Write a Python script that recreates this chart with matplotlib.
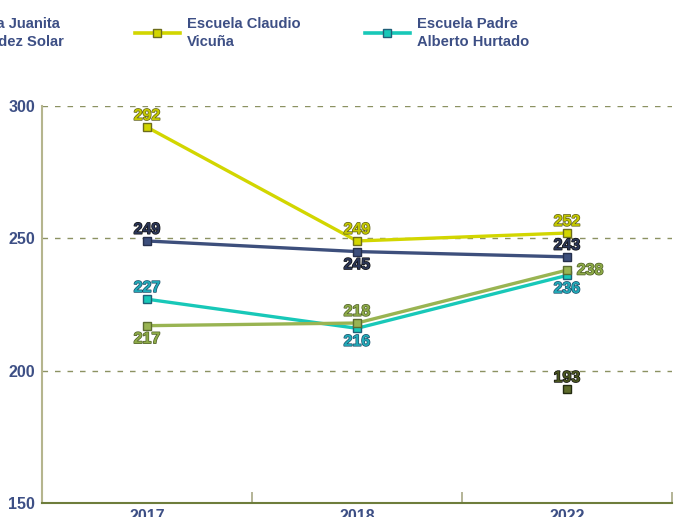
import matplotlib.pyplot as plt
import matplotlib.patheffects as pe
from matplotlib.lines import Line2D

# datos
anios = ["2017", "2018", "2022"]
claudio_vicuna = [292, 249, 252]
padre_hurtado = [227, 216, 236]
juanita_fernandez = [249, 245, 243]
serie_verde = [217, 218, 238]
serie_olivo = [None, None, 193]

plt.rcParams["font.family"] = ["Liberation Sans", "DejaVu Sans"]
plt.rcParams["font.weight"] = "bold"

AZUL_TXT = "#3d4f85"

series = [
    # valores, color linea, borde marcador, color texto, borde texto, posicion etiqueta
    (juanita_fernandez, "#3d4f7c", "#26304d", "#2b3657", "#111111", ["up", "down", "up"]),
    (claudio_vicuna, "#d2d600", "#6d6d1a", "#c4c800", "#5f5f1a", ["up", "up", "up"]),
    (padre_hurtado, "#18c8b8", "#1f5f78", "#22aab8", "#1d4f6a", ["up", "down", "down"]),
    (serie_verde, "#99b452", "#5c6d30", "#8daa48", "#4f5f28", ["down", "up", "right"]),
    (serie_olivo, "#5d6b2b", "#222a10", "#4a5520", "#111111", ["up", "up", "up"]),
]

fig = plt.figure(figsize=(6.89, 5.17), dpi=100)
ax = fig.add_axes([42 / 689, 1 - 503 / 517, 630 / 689, 397 / 517])

x = list(range(len(anios)))
for vals, col, mec, tcol, tedge, pos in series:
    pts = [(xi, v) for xi, v in zip(x, vals) if v is not None]
    xs = [p[0] for p in pts]
    ys = [p[1] for p in pts]
    ax.plot(xs, ys, color=col, lw=2.4, marker="s", ms=5.2,
            mfc=col, mec=mec, mew=1.0, zorder=3, clip_on=False)
    for xi, v in zip(x, vals):
        if v is None:
            continue
        p = pos[xi]
        if p == "up":
            off, ha, va = (0, 3), "center", "bottom"
        elif p == "down":
            off, ha, va = (0, -4), "center", "top"
        else:
            off, ha, va = (7, 0), "left", "center"
        ax.annotate(str(v), (xi, v), xytext=off, textcoords="offset points",
                    ha=ha, va=va, fontsize=11.5, fontweight="bold", color=tcol,
                    path_effects=[pe.withStroke(linewidth=1.0, foreground=tedge)],
                    zorder=4, annotation_clip=False)

ax.set_xlim(-0.5, 2.5)
ax.set_ylim(150, 300)
ax.set_yticks([150, 200, 250, 300])
ax.set_xticks(x)
ax.set_xticklabels(anios)
ax.set_xticks([0.5, 1.5, 2.5], minor=True)

for yv in [200, 250, 300]:
    ax.axhline(yv, color="#8c9262", lw=1, dashes=(4, 5), zorder=1)

for s in ["top", "right"]:
    ax.spines[s].set_visible(False)
ax.spines["left"].set_color("#b5b58e")
ax.spines["left"].set_linewidth(1.5)
ax.spines["bottom"].set_color("#6e7d3c")
ax.spines["bottom"].set_linewidth(1.5)

ax.tick_params(axis="y", length=0, pad=5, labelsize=11.5, labelcolor=AZUL_TXT)
ax.tick_params(axis="x", which="major", length=0, pad=4, labelsize=11.5, labelcolor=AZUL_TXT)
ax.tick_params(axis="x", which="minor", direction="in", length=8, width=1.2, color="#a8a885")
for lbl in ax.get_xticklabels() + ax.get_yticklabels():
    lbl.set_fontweight("bold")

# leyenda (recortada a la izquierda como en el original)
leyenda = [
    ("Escuela Juanita\nFernández Solar", "#3d4f7c", "#26304d", -103),
    ("Escuela Claudio\nVicuña", "#d2d600", "#6d6d1a", 135),
    ("Escuela Padre\nAlberto Hurtado", "#18c8b8", "#1f5f78", 365),
]
W, H = 689, 517
for txt, col, mec, x0 in leyenda:
    yl = 1 - 33 / H
    fig.add_artist(Line2D([x0 / W, (x0 + 45) / W], [yl, yl], color=col, lw=2.6,
                          transform=fig.transFigure))
    fig.add_artist(Line2D([(x0 + 22) / W], [yl], marker="s", ms=5.2, mfc=col,
                          mec=mec, mew=1.0, transform=fig.transFigure))
    fig.text((x0 + 52) / W, yl, txt, ha="left", va="center", fontsize=10.6,
             fontweight="bold", color=AZUL_TXT, linespacing=1.3,
             family=["Liberation Sans Narrow", "Liberation Sans", "DejaVu Sans"])

fig.savefig("out.png", dpi=100)
